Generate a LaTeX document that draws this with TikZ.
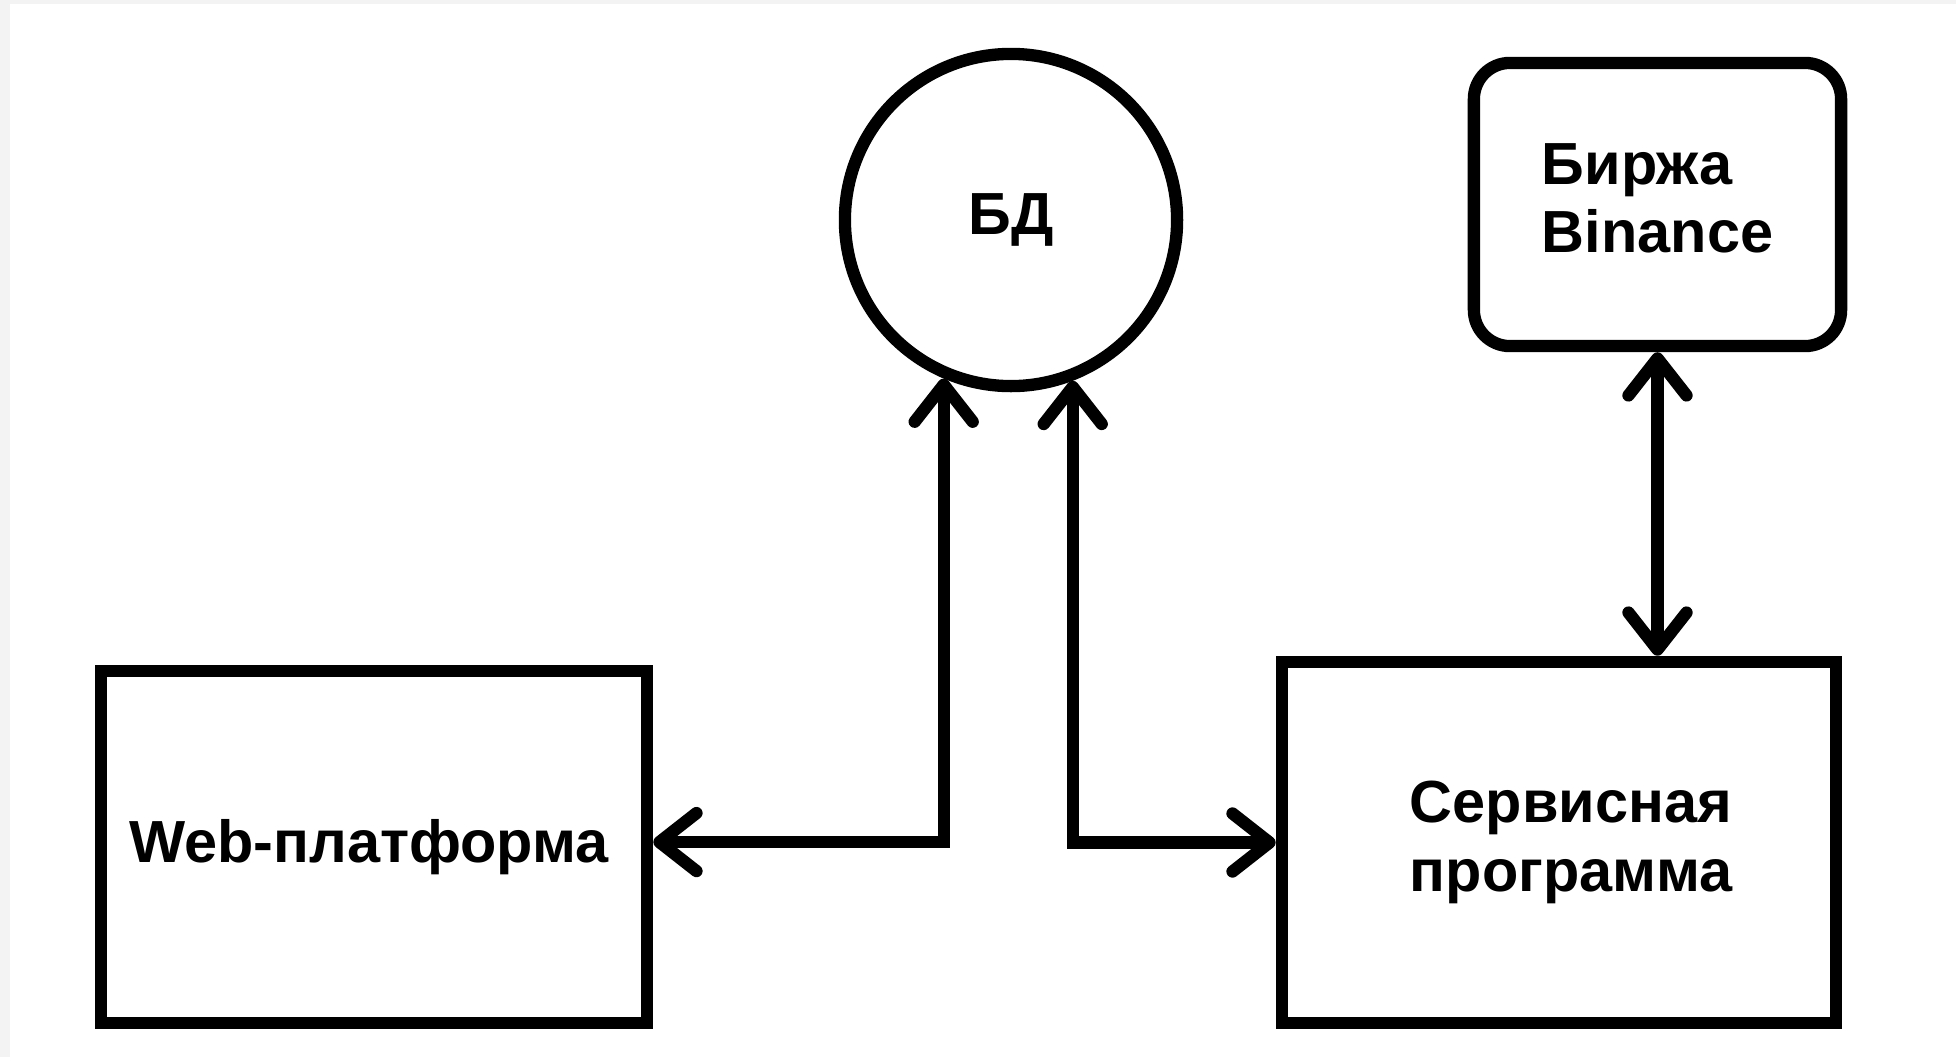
\documentclass[tikz,border=0pt]{standalone}
\usepackage{fontspec}
\setmainfont{Liberation Sans}
\usetikzlibrary{arrows.meta}
\definecolor{frame}{HTML}{F3F3F3}
\begin{document}
\begin{tikzpicture}[x=0.01cm,y=-0.01cm,
  lw/.style={line width=3.5pt},
  boxstyle/.style={draw,lw,rectangle,inner sep=0pt,align=left,
    font=\fontsize{16.9pt}{19.4pt}\selectfont\bfseries},
  barb/.tip={Straight Barb[length=3.7mm,width=5.8mm,round]},
  conn/.style={lw,line join=miter,barb-barb}
]
\fill[frame] (0,0) rectangle (1956,1057);
\fill[white] (10,4) rectangle (1956,1057);
\useasboundingbox (0,0) rectangle (1956,1057);

\node[boxstyle,circle,minimum size=3.32cm] (db) at (1011,220) {БД};
\node[boxstyle,minimum width=5.46cm,minimum height=3.52cm] (web) at (374,847) {\hspace*{-2.8pt}\raisebox{2pt}{Web-платформа}};
\node[boxstyle,minimum width=5.54cm,minimum height=3.61cm,text width=2.98cm] (svc) at (1559,842.5) {Сервисная\\программа};
\node[boxstyle,rounded corners=0.36cm,minimum width=3.67cm,minimum height=2.83cm,text depth=3.6pt] (bin) at (1657.5,204.5) {Биржа\\Binance};

\draw[conn] (db.-113) |- ([yshift=1.4pt]web.east);
\draw[conn] (db.-69) |- (svc.west);
\draw[conn] (bin.south) -- (bin.south |- svc.north);
\end{tikzpicture}
\end{document}
